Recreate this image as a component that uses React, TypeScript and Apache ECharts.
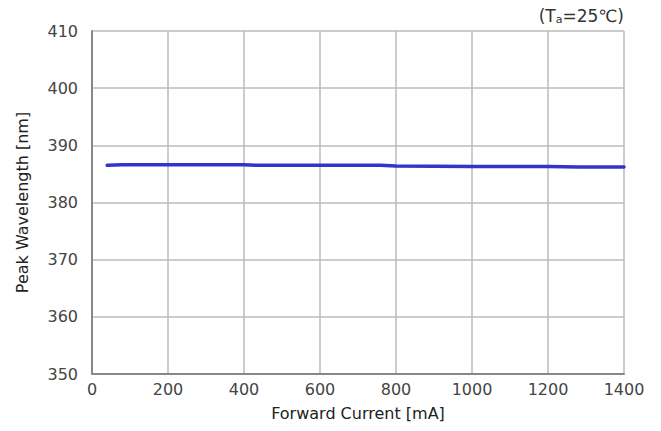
import React, { useEffect, useRef } from "react";
import * as echarts from "echarts";

const currents = [40, 80, 200, 400, 440, 600, 760, 800, 1000, 1200, 1280, 1400];
const wavelengths = [386.5, 386.6, 386.6, 386.6, 386.5, 386.5, 386.5, 386.4, 386.3, 386.3, 386.2, 386.2];
const xTicks = [0, 200, 400, 600, 800, 1000, 1200, 1400];
const yTicks = [350, 360, 370, 380, 390, 400, 410];

export default function App() {
  const ref = useRef<HTMLDivElement>(null);
  useEffect(() => {
    if (!ref.current) return;
    const chart = echarts.init(ref.current, null, { renderer: "svg" });
    const font = "'DejaVu Sans', sans-serif";
    chart.setOption({
      animation: false,
      backgroundColor: "#ffffff",
      textStyle: { fontFamily: font },
      grid: { left: 92, right: 37, top: 31, bottom: 57 },
      graphic: [
        {
          type: "text",
          right: 37,
          top: 7,
          style: {
            text: "(T{s|a}=25℃)",
            fontSize: 17,
            fill: "#333",
            fontFamily: font,
            rich: { s: { fontSize: 11, fill: "#333", padding: [8, 0, 0, 0], fontFamily: font } },
          },
        },
      ],
      xAxis: {
        type: "value",
        min: xTicks[0],
        max: xTicks[xTicks.length - 1],
        interval: 200,
        name: "Forward Current [mA]",
        nameLocation: "middle",
        nameGap: 31,
        nameTextStyle: { fontSize: 16, color: "#222" },
        axisLine: { show: true, lineStyle: { color: "#888", width: 2 } },
        axisTick: { show: false },
        axisLabel: { fontSize: 16, color: "#444", margin: 7, formatter: (v: number) => String(v) },
        splitLine: { show: true, lineStyle: { color: "#bbb", width: 1.5 } },
      },
      yAxis: {
        type: "value",
        min: yTicks[0],
        max: yTicks[yTicks.length - 1],
        interval: 10,
        name: "Peak Wavelength [nm]",
        nameLocation: "middle",
        nameGap: 62,
        nameTextStyle: { fontSize: 16, color: "#222" },
        axisLine: { show: true, lineStyle: { color: "#888", width: 2 } },
        axisTick: { show: false },
        axisLabel: { fontSize: 16, color: "#444", margin: 14 },
        splitLine: { show: true, lineStyle: { color: "#bbb", width: 1.5 } },
      },
      series: [
        {
          type: "line",
          data: currents.map((c, i) => [c, wavelengths[i]]),
          showSymbol: false,
          symbol: "none",
          lineStyle: { color: "#3434cc", width: 3.5, cap: "round" },
          smooth: false,
        },
      ],
    });
    return () => chart.dispose();
  }, []);
  return (
    <div
      ref={ref}
      style={{ position: "fixed", left: 0, top: 0, width: 661, height: 431 }}
    />
  );
}
